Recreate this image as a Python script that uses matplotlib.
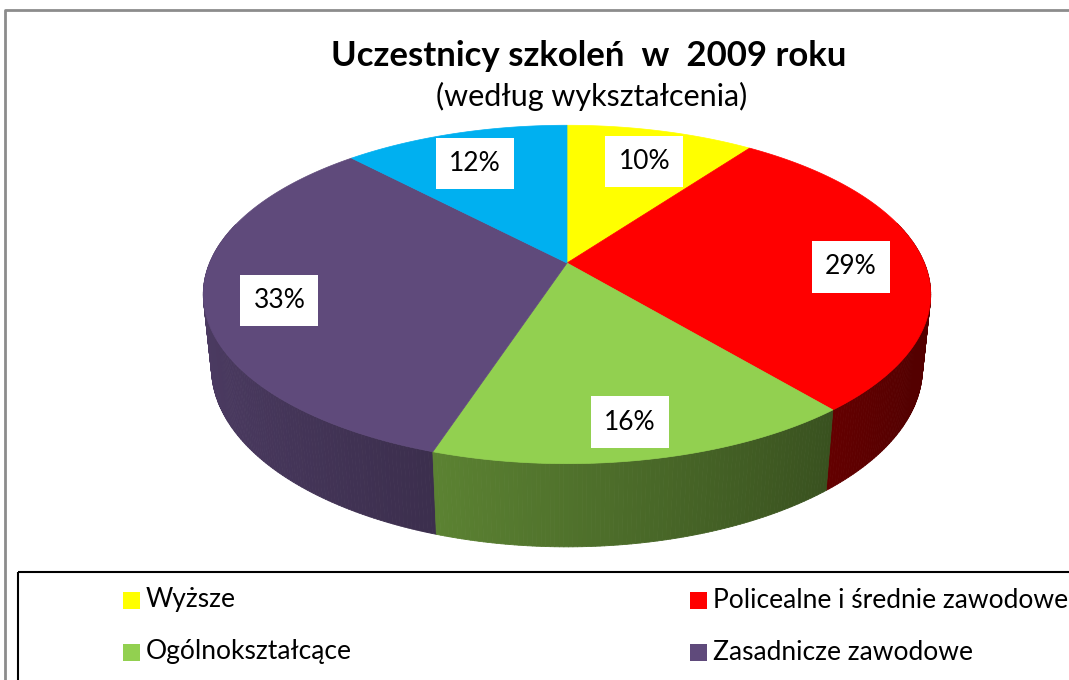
import numpy as np
import matplotlib
matplotlib.use("Agg")
import matplotlib.pyplot as plt
from matplotlib.collections import PolyCollection
from matplotlib.patches import Polygon, Rectangle
from matplotlib.colors import to_rgb

plt.rcParams['font.family'] = ['Lato', 'DejaVu Sans']

# dane
labels = ["Wyższe", "Policealne i średnie zawodowe", "Ogólnokształcące",
          "Zasadnicze zawodowe", "Gimnazjalne i poniżej"]
values = [10, 29, 16, 33, 12]
colors = ["#FFFF00", "#FF0000", "#92D050", "#5F4A7B", "#00B0F0"]
title = "Uczestnicy szkoleń  w  2009 roku"
subtitle = "(według wykształcenia)"

# geometria widoku 3D (piksele)
W, H_PX = 1069, 680
CX, CY = 567, 263
F, D = 1710.0, 4.785
ALPHA = np.radians(27.2)
THICK = 0.233


def proj(X, Y, Z):
    s, c = np.sin(ALPHA), np.cos(ALPHA)
    v = Z * c - Y * s
    w = D - (Y * c + Z * s)
    return CX + F * X / w, CY - F * v / w


def shade(col, theta):
    # jasniejsze z lewej strony, ciemniejsze z prawej
    dot = -np.sin(theta)
    f = max(0.33, 0.55 + 0.25 * dot)
    return tuple(np.array(to_rgb(col)) * f)


fig = plt.figure(figsize=(W / 100, H_PX / 100), dpi=100)
ax = fig.add_axes([0, 0, 1, 1])
ax.set_xlim(0, W)
ax.set_ylim(H_PX, 0)
ax.axis("off")

# ramka wykresu
ax.plot([5, 5, W + 5], [H_PX + 5, 10, 10], color="#8c8c8c", lw=2, clip_on=False)

total = float(sum(values))
bounds = np.concatenate([[0], np.cumsum(values)]) / total * 2 * np.pi

# boczna sciana
quads, qcols, qdepth = [], [], []
for i, col in enumerate(colors):
    th = np.linspace(bounds[i], bounds[i + 1], max(3, int(values[i] * 6)))
    for a, b in zip(th[:-1], th[1:]):
        if -np.cos((a + b) / 2) < -0.25:
            continue
        xa, ya = proj(np.sin(a), -np.cos(a), 0)
        xb, yb = proj(np.sin(b), -np.cos(b), 0)
        xc, yc = proj(np.sin(b), -np.cos(b), -THICK)
        xd, yd = proj(np.sin(a), -np.cos(a), -THICK)
        quads.append([(xa, ya), (xb, yb), (xc, yc), (xd, yd)])
        c = shade(col, (a + b) / 2)
        qcols.append(c)
        qdepth.append(-np.cos((a + b) / 2))
order = np.argsort(qdepth)
pc = PolyCollection([quads[k] for k in order],
                    facecolors=[qcols[k] for k in order],
                    edgecolors=[qcols[k] for k in order], linewidths=0.6)
ax.add_collection(pc)

# gorna powierzchnia
for i, col in enumerate(colors):
    th = np.linspace(bounds[i], bounds[i + 1], 200)
    xs, ys = proj(np.sin(th), -np.cos(th), 0 * th)
    pts = [(CX, CY)] + list(zip(xs, ys))
    ax.add_patch(Polygon(pts, closed=True, facecolor=col, edgecolor=col, lw=0.5))

# etykiety procentowe
for i, v in enumerate(values):
    mid = (bounds[i] + bounds[i + 1]) / 2
    lx, ly = proj(0.8 * np.sin(mid), -0.8 * np.cos(mid), -0.025)
    ax.text(lx, ly, f"{v}%", fontsize=19, ha="center", va="center",
            bbox=dict(boxstyle="square,pad=0.5", fc="white", ec="none"))

# tytul
ax.text(589, 56, title, fontsize=25, fontweight="bold", ha="center", va="center")
ax.text(592, 96, subtitle, fontsize=22, ha="center", va="center")

# legenda
ax.add_patch(Rectangle((18, 572), W + 20, 200, fill=False, ec="black", lw=1.5, clip_on=False))
for i, lab in enumerate(labels):
    col_x = [123, 690][i % 2]
    row_y = 600 + 52 * (i // 2)
    if row_y > H_PX:
        continue
    ax.add_patch(Rectangle((col_x, row_y - 8), 17, 17, fc=colors[i], ec="none"))
    ax.text(col_x + 23, row_y, lab, fontsize=19, ha="left", va="center")

fig.savefig("out.png", dpi=100)
